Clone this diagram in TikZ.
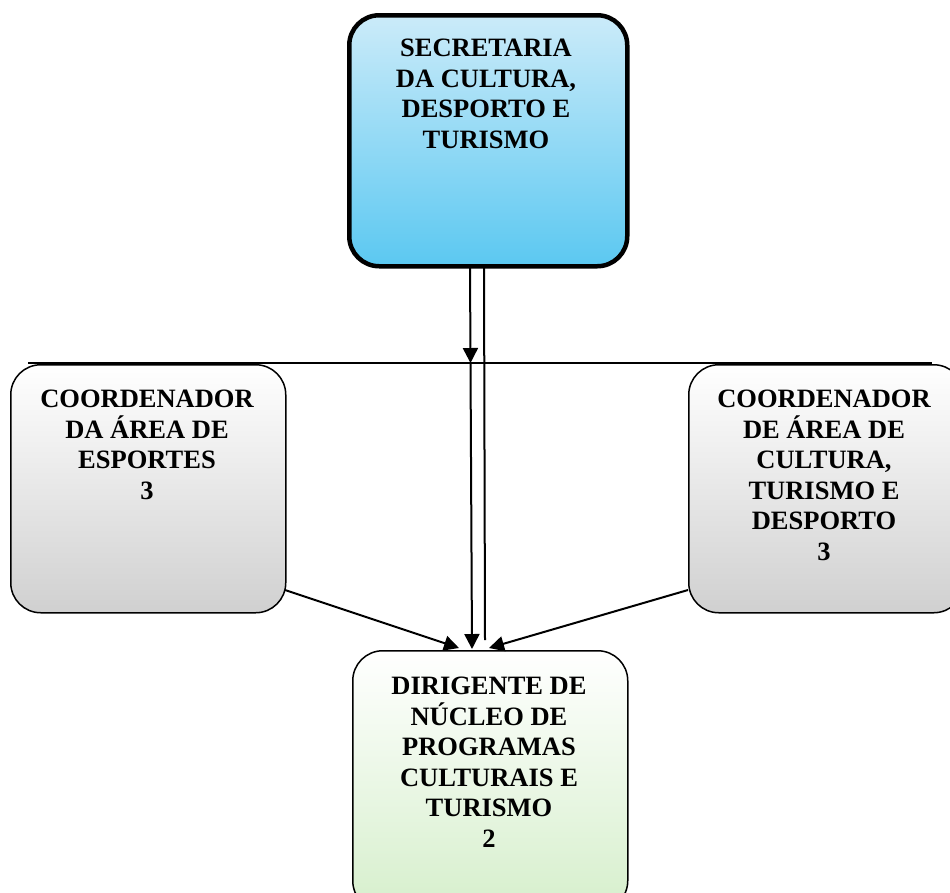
\documentclass[tikz,border=0pt]{standalone}
\usepackage{fontspec}
\setmainfont{Liberation Serif}
\usetikzlibrary{arrows.meta,calc}
\definecolor{topA}{HTML}{CBEBF9}
\definecolor{topB}{HTML}{5BC8F1}
\definecolor{grayB}{HTML}{D0D0D0}
\definecolor{greenB}{HTML}{D6EFCC}
\tikzset{
  box/.style={draw=black, rounded corners=30pt, line width=1.5pt, minimum width=#1, inner sep=0pt},
  lbl/.style={anchor=north, align=center, inner sep=0pt, font=\bfseries\fontsize{26.5}{30.5}\selectfont},
  conn/.style={line width=2pt, -{Triangle[length=15pt,width=15pt]}},
}
\begin{document}
\begin{tikzpicture}[x=1pt,y=-1pt]
\useasboundingbox (0,0) rectangle (950,892);
\clip (0,0) rectangle (950,892);
% boxes
\node[box=278pt, minimum height=251pt, line width=4.5pt, top color=topA, bottom color=topB, anchor=north west] (sec) at (347,13) {};
\node[box=275pt, minimum height=248pt, top color=white, bottom color=grayB, anchor=north west] (esp) at (10,364) {};
\node[box=275pt, minimum height=248pt, top color=white, bottom color=grayB, anchor=north west] (cul) at (688,364) {};
\node[box=275pt, minimum height=260pt, top color=white, bottom color=greenB, anchor=north west] (dir) at (352,650) {};
% labels
\node[lbl] (secT) at (486,39) {SECRETARIA\\DA CULTURA,\\DESPORTO E\\TURISMO};
\node[lbl] (espT) at (147,390) {COORDENADOR\\DA ÁREA DE\\ESPORTES\\3};
\node[lbl] (culT) at (824,390) {COORDENADOR\\DE ÁREA DE\\CULTURA,\\TURISMO E\\DESPORTO\\3};
\node[lbl] (dirT) at (489,677) {DIRIGENTE DE\\NÚCLEO DE\\PROGRAMAS\\CULTURAIS E\\TURISMO\\2};
% horizontal line
\coordinate (hl) at (28,363);
\coordinate (hr) at (932,363);
\draw[line width=1.5pt] (hl) -- (hr);
% connectors
\coordinate (s1) at (470,264);
\coordinate (m1) at (470.5,363);
\coordinate (d1) at (472,649);
\coordinate (s2) at (484,264);
\coordinate (d2) at (485,640);
\coordinate (e1) at (285,590);
\coordinate (d3) at (459,648);
\coordinate (c1) at (688,590);
\coordinate (d4) at (489,648);
\draw[conn] (s1) -- (m1);
\draw[conn] (m1) -- (d1);
\draw[line width=2pt] (s2) -- (d2);
\draw[conn] (e1) -- (d3);
\draw[conn] (c1) -- (d4);
\end{tikzpicture}
\end{document}
